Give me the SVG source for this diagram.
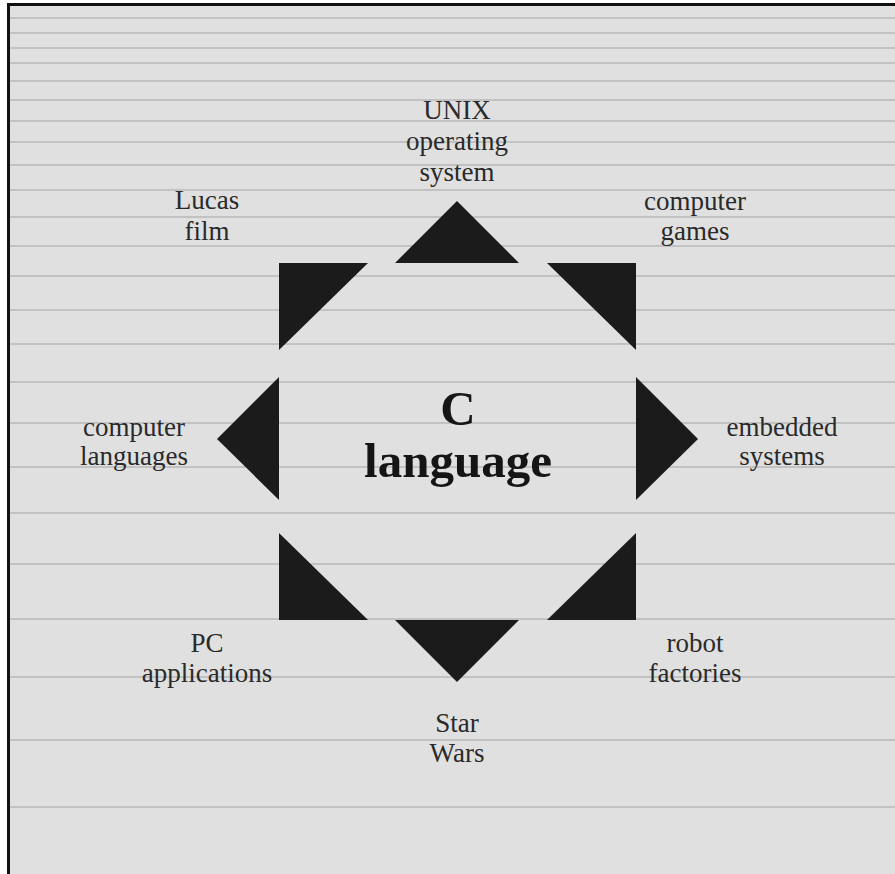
<svg xmlns="http://www.w3.org/2000/svg" width="895" height="874" viewBox="0 0 895 874">
  <style>
    .rule { stroke: #c2c2c2; stroke-width: 2; }
    .tri { fill: #1b1b1b; }
    .lbl { font-family: "Liberation Serif", "Times New Roman", serif; font-size: 27px; fill: #2a2a2a; text-anchor: middle; }
    .title { font-family: "Liberation Serif", "Times New Roman", serif; font-size: 49px; font-weight: bold; fill: #151515; text-anchor: middle; }
  </style>
  <rect x="0" y="0" width="895" height="874" fill="#ffffff"/>
  <rect x="8" y="4" width="887" height="870" fill="#e0e0e0"/>
  <g id="rules">
    <line class="rule" x1="10" y1="18" x2="895" y2="18"/>
    <line class="rule" x1="10" y1="33" x2="895" y2="33"/>
    <line class="rule" x1="10" y1="48" x2="895" y2="48"/>
    <line class="rule" x1="10" y1="63" x2="895" y2="63"/>
    <line class="rule" x1="10" y1="81" x2="895" y2="81"/>
    <line class="rule" x1="10" y1="100" x2="895" y2="100"/>
    <line class="rule" x1="10" y1="121" x2="895" y2="121"/>
    <line class="rule" x1="10" y1="142" x2="895" y2="142"/>
    <line class="rule" x1="10" y1="165" x2="895" y2="165"/>
    <line class="rule" x1="10" y1="190" x2="895" y2="190"/>
    <line class="rule" x1="10" y1="217" x2="895" y2="217"/>
    <line class="rule" x1="10" y1="246" x2="895" y2="246"/>
    <line class="rule" x1="10" y1="276" x2="895" y2="276"/>
    <line class="rule" x1="10" y1="310" x2="895" y2="310"/>
    <line class="rule" x1="10" y1="344" x2="895" y2="344"/>
    <line class="rule" x1="10" y1="382" x2="895" y2="382"/>
    <line class="rule" x1="10" y1="423" x2="895" y2="423"/>
    <line class="rule" x1="10" y1="467" x2="895" y2="467"/>
    <line class="rule" x1="10" y1="513" x2="895" y2="513"/>
    <line class="rule" x1="10" y1="564" x2="895" y2="564"/>
    <line class="rule" x1="10" y1="619" x2="895" y2="619"/>
    <line class="rule" x1="10" y1="677" x2="895" y2="677"/>
    <line class="rule" x1="10" y1="740" x2="895" y2="740"/>
    <line class="rule" x1="10" y1="807" x2="895" y2="807"/>
  </g>
  <g id="frame">
    <rect x="7" y="3" width="888" height="3" fill="#111"/>
    <rect x="7" y="3" width="3" height="871" fill="#111"/>
  </g>
  <g id="triangles">
    <polygon class="tri" points="457,201 395,263 519,263"/>
    <polygon class="tri" points="279,263 368,263 279,350"/>
    <polygon class="tri" points="547,263 636,263 636,350"/>
    <polygon class="tri" points="279,377 279,500 217,439"/>
    <polygon class="tri" points="636,377 636,500 698,439"/>
    <polygon class="tri" points="279,533 279,620 368,620"/>
    <polygon class="tri" points="636,533 636,620 547,620"/>
    <polygon class="tri" points="395,620 519,620 457,682"/>
  </g>
  <g id="center">
    <text class="title" x="458" y="425">C</text>
    <text class="title" x="458" y="477">language</text>
  </g>
  <g id="unix">
    <text class="lbl" x="457" y="119">UNIX</text>
    <text class="lbl" x="457" y="150">operating</text>
    <text class="lbl" x="457" y="181">system</text>
  </g>
  <g id="lucas">
    <text class="lbl" x="207" y="209">Lucas</text>
    <text class="lbl" x="207" y="240">film</text>
  </g>
  <g id="games">
    <text class="lbl" x="695" y="210">computer</text>
    <text class="lbl" x="695" y="240">games</text>
  </g>
  <g id="languages">
    <text class="lbl" x="134" y="436">computer</text>
    <text class="lbl" x="134" y="465">languages</text>
  </g>
  <g id="embedded">
    <text class="lbl" x="782" y="436">embedded</text>
    <text class="lbl" x="782" y="465">systems</text>
  </g>
  <g id="pc">
    <text class="lbl" x="207" y="652">PC</text>
    <text class="lbl" x="207" y="682">applications</text>
  </g>
  <g id="robot">
    <text class="lbl" x="695" y="652">robot</text>
    <text class="lbl" x="695" y="682">factories</text>
  </g>
  <g id="starwars">
    <text class="lbl" x="457" y="732">Star</text>
    <text class="lbl" x="457" y="762">Wars</text>
  </g>
</svg>
